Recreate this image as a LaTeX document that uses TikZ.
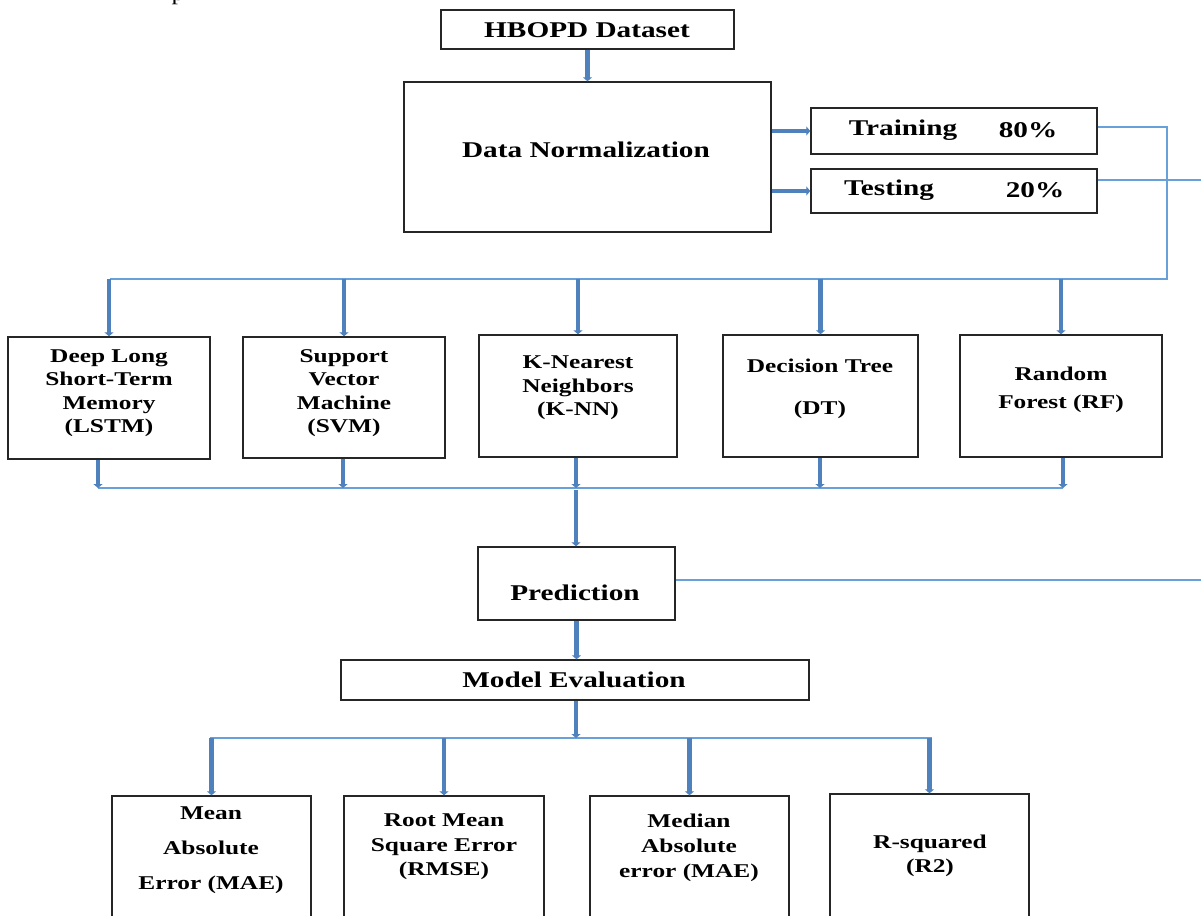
\documentclass[tikz,border=0pt]{standalone}
\usepackage{fontspec}
\setmainfont{Liberation Serif}[FakeStretch=1.3]
\usetikzlibrary{arrows.meta,calc}
\definecolor{arrblue}{RGB}{79,129,189}
\definecolor{lineblue}{RGB}{104,160,218}
\tikzset{
  box/.style={draw=black!85, line width=1.4pt, rectangle, inner sep=0pt},
  txt/.style={font=\bfseries\fontsize{19.5}{23.5}\selectfont, align=center, inner sep=0pt},
  bigtxt/.style={font=\bfseries\fontsize{22.5}{26}\selectfont, align=center, inner sep=0pt},
  arr/.style={draw=arrblue, line width=4.5pt, -{Triangle[width=9pt,length=4pt]}},
  wire/.style={draw=lineblue, line width=1.5pt},
}
\begin{document}
\begin{tikzpicture}[x=1pt,y=-1pt]
\useasboundingbox (0,0) rectangle (1201,915);
\clip (0,0) rectangle (1201,915);
\fill[white] (0,0) rectangle (1201,915);

\node[font=\fontsize{20}{20}\selectfont, anchor=base, inner sep=0pt] (frag) at (178,1) {p};

% boxes
\node[box, minimum width=293pt, minimum height=39pt] (hb) at (587.5,29.5) {};
\node[box, minimum width=367pt, minimum height=150pt] (dn) at (587.5,157) {};
\node[box, minimum width=286pt, minimum height=46pt] (tr) at (954,131) {};
\node[box, minimum width=286pt, minimum height=44pt] (te) at (954,191) {};

\node[box, minimum width=202pt, minimum height=122pt] (lstm) at (109,398) {};
\node[box, minimum width=202pt, minimum height=121pt] (svm) at (344,397.5) {};
\node[box, minimum width=198pt, minimum height=122pt] (knn) at (578,396) {};
\node[box, minimum width=195pt, minimum height=122pt] (dt) at (820.5,396) {};
\node[box, minimum width=202pt, minimum height=122pt] (rf) at (1061,396) {};

\node[box, minimum width=197pt, minimum height=73pt] (pred) at (576.5,583.5) {};
\node[box, minimum width=468pt, minimum height=40pt] (eval) at (575,680) {};

\node[box, minimum width=199pt, minimum height=148pt] (mae) at (211.5,870) {};
\node[box, minimum width=200pt, minimum height=148pt] (rmse) at (444,870) {};
\node[box, minimum width=199pt, minimum height=148pt] (med) at (689.5,870) {};
\node[box, minimum width=199pt, minimum height=150pt] (r2) at (929.5,869) {};

% texts
\node[bigtxt] (hbT) at (587,30) {HBOPD Dataset};
\node[bigtxt] (dnT) at (586,150) {Data Normalization};
\node[bigtxt] (trT1) at (903,130) {Training};
\node[bigtxt] (trT2) at (1028,130) {80\%};
\node[bigtxt] (teT1) at (889,190) {Testing};
\node[bigtxt] (teT2) at (1035,190) {20\%};

\node[txt] (lstmT) at (109,393) {Deep Long\\Short-Term\\Memory\\(LSTM)};
\node[txt] (svmT) at (344,393) {Support\\Vector\\Machine\\(SVM)};
\node[txt] (knnT) at (578,388) {K-Nearest\\Neighbors\\(K-NN)};
\node[txt] (dtT) at (820,389) {Decision Tree\\[18.5pt](DT)};
\node[txt] (rfT) at (1061,390) {Random\\[4.5pt]Forest (RF)};

\node[bigtxt] (predT) at (575,593) {Prediction};
\node[bigtxt] (evalT) at (574,680) {Model Evaluation};

\node[txt] (maeT) at (211,850) {Mean\\[11.5pt]Absolute\\[11.5pt]Error (MAE)};
\node[txt] (rmseT) at (444,847) {Root Mean\\[1pt]Square Error\\[1pt](RMSE)};
\node[txt] (medT) at (689,848) {Median\\[1.5pt]Absolute\\[1.5pt]error (MAE)};
\node[txt] (r2T) at (930,856) {R-squared\\(R2)};

% coordinates
\coordinate (c1) at (1167,279);
\coordinate (b1l) at (110,279);
\coordinate (teEnd) at (1205,180);
\coordinate (predEnd) at (1205,580);
\coordinate (b2l) at (98,488);
\coordinate (b2s) at (343,488);
\coordinate (b2c) at (576,488);
\coordinate (b2d) at (820,488);
\coordinate (b2r) at (1063,488);
\coordinate (b3c) at (576,738);
\coordinate (b3l) at (210,738);
\coordinate (b3r) at (932,738);

% thin wires
\draw[wire] ($(tr.east)+(0,-4)$) -| (c1) -- (b1l);
\draw[wire] ($(te.east)+(0,-11)$) -- (teEnd);
\draw[wire] (b2l) -- (b2r);
\draw[wire] ($(pred.east)+(0,-3.5)$) -- (predEnd);
\draw[wire] (b3l) -- (b3r);

% arrows
\draw[arr] (hb.south) -- (hb.south |- dn.north);
\draw[arr] (dn.east |- tr) -- (tr.west);
\draw[arr] (dn.east |- te) -- (te.west);
\foreach \n in {lstm,svm,knn,dt,rf}{
  \draw[arr] (b1l -| \n.north) -- (\n.north);
}
\draw[arr] (lstm.south -| b2l) -- (b2l);
\draw[arr] (svm.south -| b2s) -- (b2s);
\draw[arr] (knn.south -| b2c) -- (b2c);
\draw[arr] (dt.south -| b2d) -- (b2d);
\draw[arr] (rf.south -| b2r) -- (b2r);
\draw[arr] ($(b2c)+(0,2)$) -- (b2c |- pred.north);
\draw[arr] (pred.south) -- (pred.south |- eval.north);
\draw[arr] (eval.south -| b3c) -- (b3c);
\foreach \n in {mae,rmse,med,r2}{
  \draw[arr] (b3l -| \n.north) -- (\n.north);
}
\end{tikzpicture}
\end{document}
